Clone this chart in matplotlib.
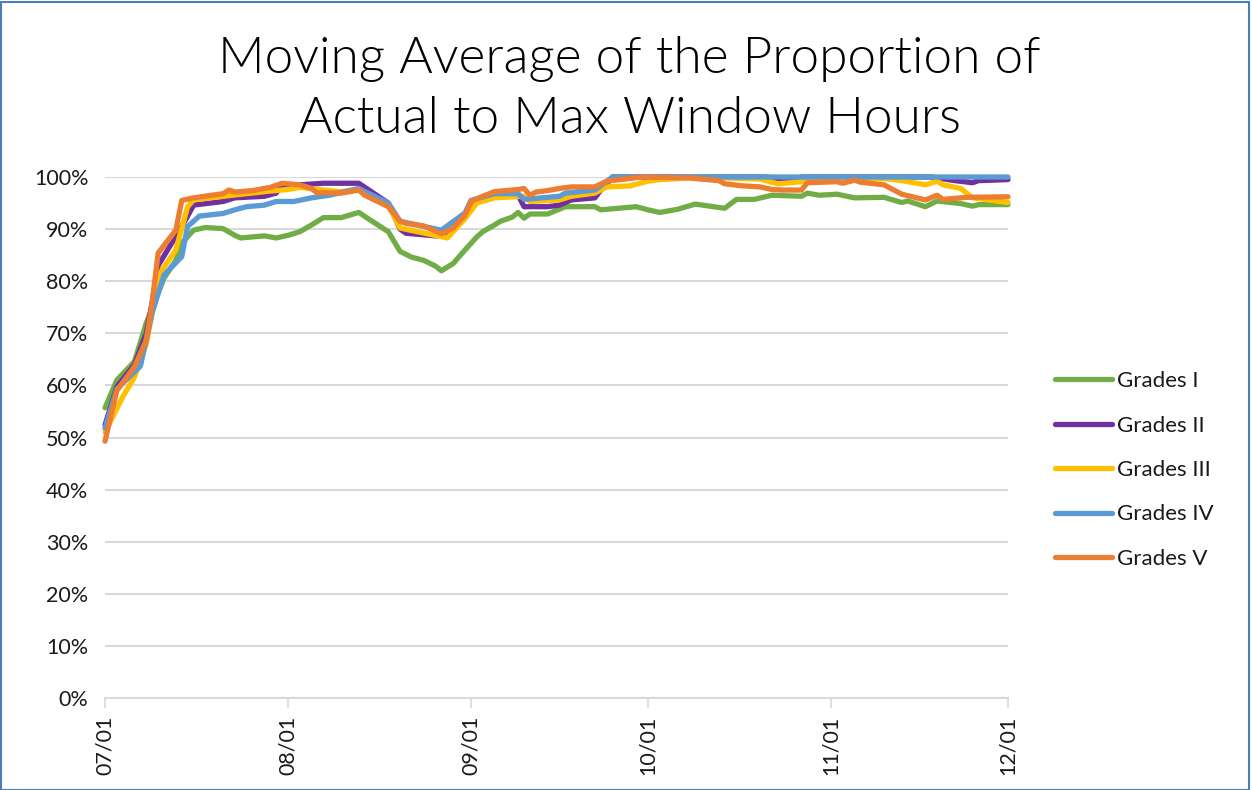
import numpy as np
import matplotlib
matplotlib.use('Agg')
import matplotlib.pyplot as plt
import matplotlib.dates as mdates
from matplotlib.ticker import PercentFormatter
from matplotlib.patches import Rectangle

plt.rcParams['font.family'] = ['Lato', 'DejaVu Sans']

start = np.datetime64('2020-07-01')
end = np.datetime64('2020-12-01')
month_ticks = ['2020-07-01', '2020-08-01', '2020-09-01', '2020-10-01', '2020-11-01', '2020-12-01']

# day offsets from 07/01 and moving-average values (%)
g1_days = [0, 2, 5, 7, 10, 12, 13, 15, 17, 20, 22, 23, 27, 29, 31, 33, 35, 37, 40, 43, 45, 48, 50, 52,
           54, 56, 57, 59, 61, 63, 64, 66, 67, 69, 70, 71, 72, 75, 78, 83, 84, 87, 90, 92, 94, 97, 100,
           105, 107, 110, 113, 118, 119, 121, 124, 127, 132, 135, 136, 139, 141, 145, 147, 148, 153]
g1_vals = [55.7, 61, 64.6, 72, 80.6, 84, 87.3, 89.8, 90.3, 90.1, 88.8, 88.3, 88.7, 88.3, 88.8, 89.5,
           90.8, 92.2, 92.2, 93.2, 91.7, 89.5, 85.7, 84.6, 84, 82.9, 82, 83.4, 86, 88.5, 89.5, 90.8,
           91.5, 92.3, 93.2, 92.1, 92.9, 92.9, 94.3, 94.3, 93.7, 94, 94.3, 93.7, 93.2, 93.8, 94.8,
           94, 95.7, 95.7, 96.5, 96.3, 96.9, 96.5, 96.7, 96, 96.1, 95.1, 95.4, 94.3, 95.4, 94.9, 94.4,
           94.7, 94.7]

g2_days = [0, 2, 5, 7, 8, 9, 12, 14, 15, 20, 22, 27, 29, 30, 33, 37, 43, 48, 50, 51, 56, 58, 59, 61,
           62, 66, 70, 71, 75, 77, 79, 83, 84, 86, 112, 114, 117, 118, 140, 144, 147, 148, 153]
g2_vals = [52.4, 59.7, 64, 70, 76, 83, 88.6, 92.5, 94.6, 95.3, 96, 96.3, 96.9, 98.5, 98.5, 98.8, 98.8,
           95, 90, 89.2, 88.7, 88.8, 90, 92.7, 95, 96.8, 96.5, 94.3, 94.3, 94.6, 95.6, 96, 97.5, 100,
           100, 99.7, 99.7, 100, 100, 99.3, 98.9, 99.3, 99.5]

g3_days = [0, 3, 5, 7, 8, 9, 12, 14, 15, 20, 28, 31, 33, 37, 40, 43, 48, 50, 58, 61, 63, 66, 71, 72,
           77, 79, 83, 85, 89, 92, 94, 97, 100, 111, 112, 114, 118, 119, 132, 135, 139, 141, 142, 145,
           147, 153]
g3_vals = [51, 57.8, 61.6, 68, 74, 81, 86, 94.3, 95.6, 96.3, 97.3, 97.6, 98, 97.5, 97.2, 97.5, 94.5,
           90.2, 88.3, 92, 95, 96, 96.3, 95.3, 95.6, 96.3, 96.9, 98.1, 98.3, 99.2, 99.5, 99.7, 100,
           99.6, 99.3, 98.7, 99.1, 99.7, 99.7, 99.3, 98.5, 99.2, 98.5, 97.8, 96, 95.1]

g4_days = [0, 2, 6, 8, 10, 13, 14, 16, 20, 22, 24, 27, 29, 32, 35, 38, 43, 48, 50, 57, 61, 62, 66,
           70, 71, 77, 78, 83, 86, 153]
g4_vals = [51.8, 59.3, 63.7, 74, 81.2, 84.7, 90.5, 92.5, 93, 93.7, 94.3, 94.6, 95.3, 95.3, 96, 96.5,
           97.8, 95, 91.5, 89.8, 93.1, 95.5, 96.8, 96.8, 95.7, 96.3, 96.9, 97.5, 100, 100]

g5_days = [0, 2, 5, 7, 8, 9, 12, 13, 15, 20, 21, 22, 25, 28, 30, 33, 35, 36, 37, 40, 43, 44, 48, 50,
           51, 54, 57, 59, 61, 62, 64, 66, 70, 71, 72, 73, 75, 77, 79, 83, 85, 88, 91, 99, 104, 105,
           108, 111, 113, 115, 118, 119, 124, 125, 127, 128, 132, 135, 139, 141, 142, 146, 153]
g5_vals = [49.3, 59, 63.6, 68.7, 76, 85.4, 89.8, 95.5, 96, 96.8, 97.5, 97.1, 97.4, 98, 98.8, 98.5,
           97.8, 96.9, 97, 96.9, 97.5, 96.5, 94.3, 91.5, 91.1, 90.6, 89.1, 90.2, 92.7, 95.3, 96.3,
           97.2, 97.6, 97.8, 96.5, 97.1, 97.4, 97.8, 98.1, 98.1, 99.2, 99.6, 100, 99.8, 99.3, 98.7,
           98.3, 98.1, 97.6, 97.5, 97.5, 98.9, 99.1, 98.8, 99.4, 99, 98.5, 96.7, 95.6, 96.5, 95.7,
           96.1, 96.2]

series = [
    ('Grades I', g1_days, g1_vals, '#70AD47'),
    ('Grades II', g2_days, g2_vals, '#7030A0'),
    ('Grades III', g3_days, g3_vals, '#FFC000'),
    ('Grades IV', g4_days, g4_vals, '#5B9BD5'),
    ('Grades V', g5_days, g5_vals, '#ED7D31'),
]


def to_dates(days):
    return start + np.array(days).astype('timedelta64[D]')


fig = plt.figure(figsize=(12.52, 7.9), dpi=100)
ax = fig.add_axes([105 / 1252, 1 - 698 / 790, (1008 - 105) / 1252, (698 - 177) / 790])

for label, days, vals, color in series:
    ax.plot(to_dates(days), vals, color=color, lw=3.8, label=label,
            solid_capstyle='round', solid_joinstyle='round', clip_on=False)

ax.set_xlim(start, end)
ax.set_ylim(0, 100)
ax.set_yticks(np.arange(0, 101, 10))
ax.yaxis.set_major_formatter(PercentFormatter(xmax=100, decimals=0))
ax.set_xticks(np.array(month_ticks, dtype='datetime64[D]'))
ax.xaxis.set_major_formatter(mdates.DateFormatter('%m/%d'))

ax.grid(axis='y', color='#d9d9d9', lw=1.5)
ax.set_axisbelow(True)
for side in ['left', 'right', 'top']:
    ax.spines[side].set_visible(False)
ax.spines['bottom'].set_color('#d9d9d9')
ax.spines['bottom'].set_linewidth(1.5)
ax.tick_params(axis='y', length=0, pad=12, labelsize=15.5, labelcolor='#1a1a1a')
ax.tick_params(axis='x', length=7, width=1.2, color='#d9d9d9', direction='out',
               pad=6, labelsize=15.5, labelcolor='#1a1a1a', labelrotation=90)

fig.text(0.503, 1 - 89 / 790, 'Moving Average of the Proportion of\nActual to Max Window Hours',
         ha='center', va='center', fontsize=37, fontweight=300, linespacing=1.38,
         color='#000000')

fig.legend(loc='center left', bbox_to_anchor=(1055 / 1252, 1 - 470 / 790), frameon=False,
           fontsize=16, borderpad=0, borderaxespad=0, labelspacing=1.1, handlelength=2.55,
           handletextpad=0.25, labelcolor='#1a1a1a')

fig.patches.append(Rectangle((0.001, 0.0), 0.997, 0.998, transform=fig.transFigure,
                             fill=False, edgecolor='#4A7EBB', lw=1.5))

fig.savefig('out.png', dpi=100)
